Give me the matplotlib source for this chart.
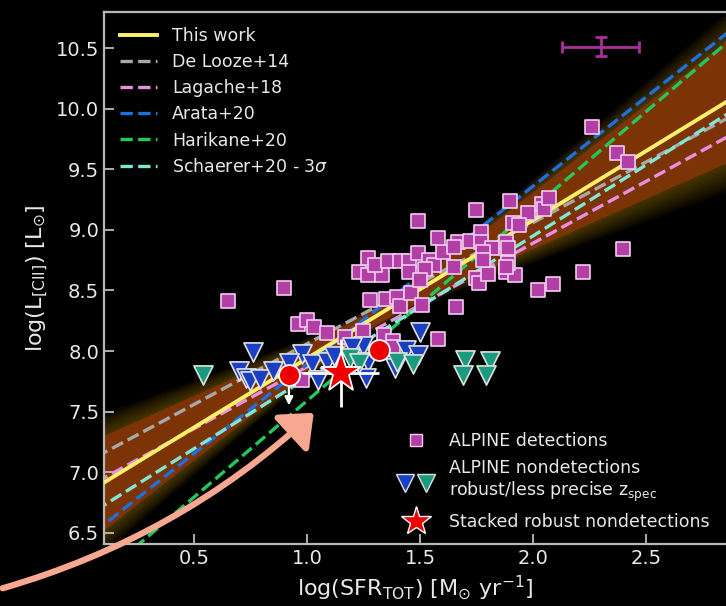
import numpy as np
import matplotlib.pyplot as plt
from matplotlib.lines import Line2D
from matplotlib.legend_handler import HandlerTuple
from matplotlib.patches import FancyArrowPatch

# ALPINE [CII] detections
det_sfr = [0.65, 0.90, 0.96, 1.00, 1.03, 1.09, 1.17, 1.25, 1.34, 1.38, 1.38,
           1.28, 1.35, 1.40, 1.41, 1.46, 1.51, 1.58, 1.66, 1.23, 1.27, 1.33,
           1.27, 1.30, 1.36, 1.41, 1.45, 1.49, 1.54, 1.56, 1.60, 1.52, 1.45,
           1.50, 1.65, 1.75, 1.76, 1.80, 1.88, 1.92, 2.02, 2.09, 2.22, 2.40,
           1.49, 1.58, 1.67, 1.65, 1.72, 1.77, 1.77, 1.75, 1.82, 1.78, 1.78,
           1.88, 1.89, 1.89, 1.88, 1.90, 1.98, 1.91, 1.94, 2.04, 2.05, 2.07,
           2.26, 2.37, 2.42, 0.98]
det_lcii = [8.41, 8.52, 8.22, 8.26, 8.20, 8.15, 8.12, 8.17, 8.13, 8.08, 8.03,
            8.42, 8.43, 8.45, 8.37, 8.48, 8.38, 8.10, 8.36, 8.65, 8.63, 8.63,
            8.77, 8.71, 8.74, 8.74, 8.74, 8.81, 8.75, 8.71, 8.82, 8.68, 8.65,
            8.59, 8.69, 8.60, 8.56, 8.64, 8.65, 8.63, 8.50, 8.55, 8.65, 8.84,
            9.07, 8.93, 8.90, 8.86, 8.91, 8.98, 8.90, 9.16, 8.85, 8.82, 8.75,
            8.90, 8.85, 8.73, 8.69, 9.24, 9.14, 9.06, 9.04, 9.21, 9.17, 9.26,
            9.85, 9.63, 9.56, 7.76]

# nondetections (upper limits), robust z_spec
robust_sfr = [0.76, 0.70, 0.73, 0.75, 0.79, 0.85, 0.98, 0.92, 1.02, 1.05,
              1.09, 1.12, 1.25, 1.27, 1.26, 1.39, 1.44, 1.50, 1.49, 1.20]
robust_lcii = [7.99, 7.84, 7.78, 7.75, 7.77, 7.84, 7.98, 7.90, 7.89, 7.76,
               7.91, 7.96, 8.04, 7.91, 7.78, 7.86, 8.01, 8.16, 7.97, 8.03]
# nondetections, less precise z_spec
lessp_sfr = [0.54, 1.19, 1.23, 1.40, 1.47, 1.70, 1.81, 1.69, 1.79]
lessp_lcii = [7.80, 7.94, 7.90, 7.91, 7.89, 7.93, 7.92, 7.80, 7.80]

# stacks
circ_sfr = [0.92, 1.32]
circ_lcii = [7.80, 8.01]
circ_limit = 7.53
star_sfr, star_lcii = 1.15, 7.82
star_xerr, star_yerr = 0.17, 0.28

# typical error bar
err_sfr, err_lcii, err_x, err_y = 2.30, 10.51, 0.17, 0.08

# relations: (slope, intercept)
this_work = (1.14, 6.80)
de_looze = (1.00, 7.06)
lagache = (1.02, 6.85)
arata = (1.47, 6.42)
harikane = (1.59, 6.00)
schaerer = (1.17, 6.61)
pivot, sig_a, sig_b = 1.3, 0.07, 0.32

fg = '#e8e8e8'
plt.rcParams['font.family'] = 'DejaVu Sans'
fig = plt.figure(figsize=(7.26, 6.06), dpi=100, facecolor='black')
ax = fig.add_axes([0.1433, 0.1023, 0.8567, 0.8779], facecolor='black')

xx = np.linspace(0.0, 3.0, 300)
yfit = this_work[0] * xx + this_work[1]
half = np.sqrt(sig_a ** 2 + (sig_b * (xx - pivot)) ** 2)

# glow of the fit samples
for k in range(8, 0, -1):
    f = 1 + 0.06 * k
    ax.fill_between(xx, yfit - half * f, yfit + half * f, color='#c89a10',
                    alpha=0.05, lw=0, zorder=1)
ax.fill_between(xx, yfit - half, yfit + half, color='#7c3306', lw=0, zorder=1.5)

rels = [(de_looze, '#a8a8a8', 'De Looze+14'),
        (lagache, '#e890e0', 'Lagache+18'),
        (arata, '#1f6fe0', 'Arata+20'),
        (harikane, '#22c85a', 'Harikane+20'),
        (schaerer, '#80e6d6', r'Schaerer+20 - 3$\sigma$')]
h_this, = ax.plot(xx, yfit, color='#fff06a', lw=2.8, zorder=3, label='This work')
handles = [h_this]
for (a, b), c, lab in rels:
    h, = ax.plot(xx, a * xx + b, ls='--', color=c, lw=2.4, zorder=2.5, label=lab)
    handles.append(h)

ax.scatter(det_sfr, det_lcii, marker='s', s=100, color='#b23fa6',
           edgecolors='#f2cdf0', linewidths=1.2, zorder=4)
ax.scatter(robust_sfr, robust_lcii, marker='v', s=190, color='#1b3fc2',
           edgecolors='#e0e0e0', linewidths=1.2, zorder=5)
ax.scatter(lessp_sfr, lessp_lcii, marker='v', s=190, color='#1a9a7e',
           edgecolors='#e0e0e0', linewidths=1.2, zorder=5)

ax.annotate('', xy=(circ_sfr[0], circ_limit), xytext=(circ_sfr[0], circ_lcii[0]),
            arrowprops=dict(arrowstyle='-|>', color='white', lw=1.6,
                            mutation_scale=12), zorder=6)
ax.plot(circ_sfr, circ_lcii, 'o', ms=15, color='#ee0000', mec='white',
        mew=1.3, ls='none', zorder=7)
ax.errorbar(star_sfr, star_lcii, xerr=star_xerr, yerr=star_yerr, fmt='none',
            ecolor='white', elinewidth=2, zorder=6)
ax.plot(star_sfr, star_lcii, '*', ms=30, color='#ee0000', mec='white',
        mew=1.3, zorder=7)

ax.errorbar(err_sfr, err_lcii, xerr=err_x, yerr=err_y, fmt='none',
            ecolor='#a8309a', elinewidth=2, capsize=4, capthick=2)

ax.set_xlim(0.102, 2.854)
ax.set_ylim(6.409, 10.797)
ax.set_xticks([0.5, 1.0, 1.5, 2.0, 2.5])
ax.set_yticks([6.5, 7.0, 7.5, 8.0, 8.5, 9.0, 9.5, 10.0, 10.5])
ax.tick_params(direction='in', length=7, width=1.3, colors='#bbbbbb',
               labelcolor=fg, labelsize=14)
for side in ['left', 'bottom', 'top']:
    ax.spines[side].set_color('#b8b8b8')
    ax.spines[side].set_linewidth(1.6)
ax.spines['right'].set_visible(False)
ax.set_xlabel(r'log(SFR$_{\rm TOT}$) [M$_{\odot}$ yr$^{-1}$]', color=fg, fontsize=16)
ax.set_ylabel(r'log(L$_{\rm [CII]}$) [L$_{\odot}$]', color=fg, fontsize=16)

leg1 = ax.legend(handles=handles, loc='upper left', bbox_to_anchor=(0.026, 0.972),
                 frameon=False, fontsize=12.5, labelcolor=fg, borderpad=0,
                 borderaxespad=0, handlelength=2.1, handletextpad=0.9,
                 labelspacing=0.47)
ax.add_artist(leg1)

m_det = Line2D([], [], marker='s', ms=9, color='#b23fa6', mec='#f2cdf0', ls='none')
m_rob = Line2D([], [], marker='v', ms=13, color='#1b3fc2', mec='#e0e0e0', ls='none')
m_les = Line2D([], [], marker='v', ms=13, color='#1a9a7e', mec='#e0e0e0', ls='none')
m_star = Line2D([], [], marker='*', ms=22, color='#ee0000', mec='white', ls='none')
ax.legend([m_det, (m_rob, m_les), m_star],
          ['ALPINE detections',
           'ALPINE nondetections\nrobust/less precise z$_{\\rm spec}$',
           'Stacked robust nondetections'],
          handler_map={tuple: HandlerTuple(ndivide=None, pad=0.4)},
          loc='upper left', bbox_to_anchor=(0.473, 0.21), frameon=False,
          fontsize=12.5, labelcolor=fg, borderpad=0, borderaxespad=0,
          handlelength=2.0, handletextpad=0.9, labelspacing=0.5)

arrow = FancyArrowPatch((0.0, 0.028), (0.435, 0.322), transform=fig.transFigure,
                        connectionstyle='arc3,rad=0.12',
                        arrowstyle='-|>,head_length=0.6,head_width=0.5',
                        mutation_scale=30, color='#f8a890', lw=4.5, zorder=10)
fig.patches.append(arrow)

fig.savefig('out.png', dpi=100, facecolor='black')
